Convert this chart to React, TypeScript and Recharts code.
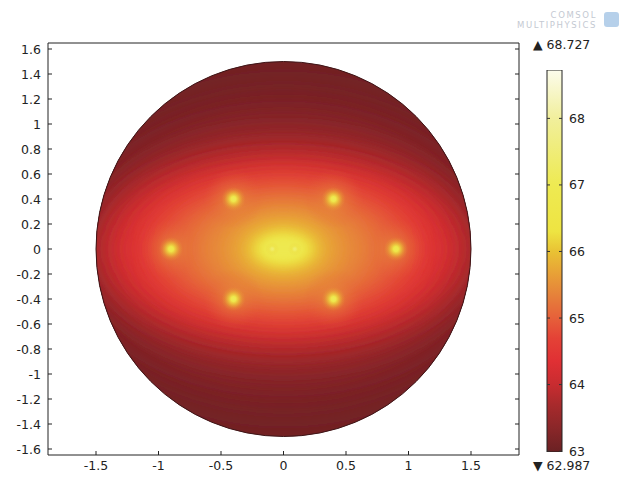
import React from 'react';
import { ScatterChart, Scatter, XAxis, YAxis, ReferenceArea, BarChart, Bar } from 'recharts';

const W = 641;
const H = 480;
const FONT = "'DejaVu Sans', sans-serif";
const INK = '#222';

// ---------- axes ----------
const xTicks = [-1.5, -1, -0.5, 0, 0.5, 1, 1.5];
const yTicks = [-1.6, -1.4, -1.2, -1, -0.8, -0.6, -0.4, -0.2, 0, 0.2, 0.4, 0.6, 0.8, 1, 1.2, 1.4, 1.6];
const xLimits = [-1.884, 1.884];
const yLimits = [-1.648, 1.648];

// ---------- colour scale ----------
const colorRange = [62.987, 68.727];
const colorTicks = [63, 64, 65, 66, 67, 68];
const cmapTemps = [62.987, 63.3, 63.7, 64.0, 64.35, 64.7, 65.0, 65.35, 65.7, 66.0, 66.3, 67.0, 68.0, 68.727];
const cmapColors = ['#6a2123', '#862628', '#a82a2c', '#c82c30', '#e03034', '#e44236', '#e6603a', '#e6823a', '#e8a436', '#e9c234', '#eee442', '#eeea52', '#f1ef9c', '#fcfcec'];

// ---------- disk ----------
const diskRadius = 1.5;
const diskEdgeTemp = 63.08;

// ---------- isotherms (temperature, half-width, half-height) ----------
const isoTemps = [63.2, 63.4, 63.65, 63.9, 64.2, 64.4, 64.7, 65.0, 65.3, 65.6, 65.9, 66.2, 66.6, 66.9];
const isoHalfWidth = [1.75, 1.6, 1.5, 1.45, 1.38, 1.22, 1.1, 0.98, 0.8, 0.56, 0.36, 0.26, 0.2, 0.15];
const isoHalfHeight = [1.28, 1.02, 0.885, 0.75, 0.66, 0.61, 0.55, 0.47, 0.41, 0.33, 0.23, 0.15, 0.11, 0.075];

// ---------- heat sources ----------
const sourceX = [-0.4, 0.4, -0.9, 0.9, -0.4, 0.4, -0.09, 0.09];
const sourceY = [0.4, 0.4, 0, 0, -0.4, -0.4, 0, 0];
const sourcePeak = [67.1, 67.1, 66.9, 66.9, 67.1, 67.1, 67.5, 67.5];
const sourceHalo = [1, 1, 1, 1, 1, 1, 0, 0];

const spotData = sourceX.map((x, i) => ({ x, y: sourceY[i], peak: sourcePeak[i], halo: sourceHalo[i], id: i }));
const cbarData = [{ name: 'T', range: [colorRange[0], colorRange[1]] }];

const hexToRgb = (h: string) => [parseInt(h.slice(1, 3), 16), parseInt(h.slice(3, 5), 16), parseInt(h.slice(5, 7), 16)];
const mix = (a: string, b: string, f: number) => {
  const A = hexToRgb(a);
  const B = hexToRgb(b);
  const c = A.map((v, k) => Math.round(v + (B[k] - v) * f));
  return `rgb(${c[0]},${c[1]},${c[2]})`;
};
function tempColor(t: number): string {
  if (t <= cmapTemps[0]) return cmapColors[0];
  for (let i = 1; i < cmapTemps.length; i++) {
    if (t <= cmapTemps[i]) {
      const f = (t - cmapTemps[i - 1]) / (cmapTemps[i] - cmapTemps[i - 1]);
      return mix(cmapColors[i - 1], cmapColors[i], f);
    }
  }
  return cmapColors[cmapColors.length - 1];
}

const textStyle = { fontFamily: FONT, fontSize: 12.5, fill: INK } as const;

// ---------- ticks ----------
const BottomTick = (props: any) => {
  const { x, y, payload } = props;
  const axisY = y - 6;
  return (
    <g>
      <line x1={x} x2={x} y1={axisY} y2={axisY - 4} stroke={INK} />
      <text x={x} y={y} dy="0.71em" textAnchor="middle" {...textStyle}>{String(payload.value)}</text>
    </g>
  );
};
const LeftTick = (props: any) => {
  const { x, y, payload } = props;
  const axisX = x + 7;
  return (
    <g>
      <line x1={axisX} x2={axisX + 4} y1={y} y2={y} stroke={INK} />
      <text x={x} y={y} dy="0.36em" textAnchor="end" {...textStyle}>{String(payload.value)}</text>
    </g>
  );
};
const TopTick = (props: any) => {
  const { x, y } = props;
  return <line x1={x} x2={x} y1={y} y2={y + 4} stroke={INK} />;
};
const RightTick = (props: any) => {
  const { x, y } = props;
  return <line x1={x} x2={x - 4} y1={y} y2={y} stroke={INK} />;
};
const CbarTick = (props: any) => {
  const { x, y, payload } = props;
  const right = x - 7;
  const left = right - 15;
  return (
    <g>
      <line x1={left} x2={left + 3} y1={y} y2={y} stroke="#333" />
      <line x1={right - 3} x2={right} y1={y} y2={y} stroke="#333" />
      <text x={x} y={y} dy="0.36em" textAnchor="start" {...textStyle}>{String(payload.value)}</text>
    </g>
  );
};

// ---------- shapes ----------
const DiskShape = (props: any) => {
  const { x, y, width, height } = props;
  const cx = x + width / 2;
  const cy = y + height / 2;
  return (
    <g>
      <defs>
        <clipPath id="diskClip">
          <ellipse cx={cx} cy={cy} rx={width / 2} ry={height / 2} />
        </clipPath>
      </defs>
      <ellipse cx={cx} cy={cy} rx={width / 2} ry={height / 2} fill={tempColor(diskEdgeTemp)} />
    </g>
  );
};

const makeIsoShape = (t: number, i: number) => (props: any) => {
  const { x, y, width, height } = props;
  const rxp = width / 2;
  const ryp = height / 2;
  const sd = Math.max(2.5, Math.min(16, 0.35 * Math.min(rxp, ryp)));
  return (
    <g>
      <defs>
        <filter id={`isoBlur${i}`} x="-1" y="-1" width="3" height="3">
          <feGaussianBlur stdDeviation={sd} />
        </filter>
      </defs>
      <g clipPath="url(#diskClip)">
        <ellipse cx={x + rxp} cy={y + ryp} rx={rxp} ry={ryp} fill={tempColor(t)} filter={`url(#isoBlur${i})`} />
      </g>
    </g>
  );
};

const OutlineShape = (props: any) => {
  const { x, y, width, height } = props;
  return (
    <ellipse cx={x + width / 2} cy={y + height / 2} rx={width / 2} ry={height / 2} fill="none" stroke="#3e1517" strokeWidth={1} />
  );
};

const SpotShape = (props: any) => {
  const { cx, cy, payload } = props;
  const id = `spot${payload.id}`;
  const p = payload.peak;
  const hasHalo = payload.halo > 0;
  return (
    <g>
      <defs>
        <radialGradient id={`${id}h`}>
          <stop offset="0" stopColor={tempColor(65.9)} stopOpacity={0.55} />
          <stop offset="0.4" stopColor={tempColor(65.4)} stopOpacity={0.35} />
          <stop offset="1" stopColor={tempColor(65.0)} stopOpacity={0} />
        </radialGradient>
        <radialGradient id={id}>
          <stop offset="0" stopColor={tempColor(p)} stopOpacity={1} />
          <stop offset="0.2" stopColor={tempColor(p - 0.3)} stopOpacity={hasHalo ? 1 : 0.8} />
          <stop offset="0.45" stopColor={tempColor(66.2)} stopOpacity={hasHalo ? 0.6 : 0.2} />
          <stop offset="0.75" stopColor={tempColor(65.9)} stopOpacity={hasHalo ? 0.2 : 0} />
          <stop offset="1" stopColor={tempColor(65.7)} stopOpacity={0} />
        </radialGradient>
      </defs>
      {hasHalo ? <circle cx={cx} cy={cy} r={30} fill={`url(#${id}h)`} /> : null}
      <circle cx={cx} cy={cy} r={hasHalo ? 12 : 9} fill={`url(#${id})`} />
    </g>
  );
};

const CbarShape = (props: any) => {
  const { x, y, width, height } = props;
  const span = colorRange[1] - colorRange[0];
  return (
    <g>
      <defs>
        <linearGradient id="cbarGrad" x1="0" y1="1" x2="0" y2="0">
          {cmapTemps.map((t, i) => (
            <stop key={i} offset={(t - colorRange[0]) / span} stopColor={cmapColors[i]} />
          ))}
        </linearGradient>
      </defs>
      <rect x={x} y={y} width={width} height={height} fill="url(#cbarGrad)" stroke={INK} strokeWidth={1} />
    </g>
  );
};

export default function App() {
  return (
    <div style={{ position: 'fixed', left: 0, top: 0, width: W, height: H, background: '#fff', fontFamily: FONT }}>
      <div style={{ position: 'absolute', left: 0, top: 0 }}>
        <ScatterChart width={W} height={H} margin={{ top: 42, right: 121, bottom: 0, left: 0 }}>
          <XAxis
            dataKey="x"
            type="number"
            domain={xLimits}
            allowDataOverflow
            ticks={xTicks}
            interval={0}
            height={25}
            tickSize={0}
            tickMargin={6}
            tickLine={false}
            axisLine={{ stroke: INK }}
            tick={BottomTick}
          />
          <XAxis
            xAxisId="top"
            orientation="top"
            type="number"
            domain={xLimits}
            allowDataOverflow
            ticks={xTicks}
            interval={0}
            height={1}
            tickSize={0}
            tickMargin={0}
            tickLine={false}
            axisLine={{ stroke: INK }}
            tick={TopTick}
          />
          <YAxis
            dataKey="y"
            type="number"
            domain={yLimits}
            allowDataOverflow
            ticks={yTicks}
            interval={0}
            width={48}
            tickSize={0}
            tickMargin={7}
            tickLine={false}
            axisLine={{ stroke: INK }}
            tick={LeftTick}
          />
          <YAxis
            yAxisId="right"
            orientation="right"
            type="number"
            domain={yLimits}
            allowDataOverflow
            ticks={yTicks}
            interval={0}
            width={1}
            tickSize={0}
            tickMargin={0}
            tickLine={false}
            axisLine={{ stroke: INK }}
            tick={RightTick}
          />
          <ReferenceArea
            x1={-diskRadius}
            x2={diskRadius}
            y1={-diskRadius}
            y2={diskRadius}
            ifOverflow="visible"
            shape={DiskShape}
          />
          {isoTemps.map((t, i) => (
            <ReferenceArea
              key={`iso${i}`}
              x1={-isoHalfWidth[i]}
              x2={isoHalfWidth[i]}
              y1={-isoHalfHeight[i]}
              y2={isoHalfHeight[i]}
              ifOverflow="visible"
              shape={makeIsoShape(t, i)}
            />
          ))}
          <ReferenceArea
            x1={-diskRadius}
            x2={diskRadius}
            y1={-diskRadius}
            y2={diskRadius}
            ifOverflow="visible"
            shape={OutlineShape}
          />
          <Scatter data={spotData} isAnimationActive={false} shape={SpotShape} />
        </ScatterChart>
      </div>
      <div style={{ position: 'absolute', left: 0, top: 0 }}>
        <BarChart
          width={W}
          height={H}
          data={cbarData}
          margin={{ top: 70, right: 0, bottom: 28, left: 547 }}
          barCategoryGap={0}
          barGap={0}
        >
          <XAxis dataKey="name" hide />
          <Bar dataKey="range" isAnimationActive={false} shape={CbarShape} />
          <YAxis
            orientation="right"
            type="number"
            domain={colorRange}
            allowDataOverflow
            ticks={colorTicks}
            interval={0}
            width={79}
            tickSize={0}
            tickMargin={7}
            tickLine={false}
            axisLine={false}
            tick={CbarTick}
          />
        </BarChart>
      </div>
      <div style={{ position: 'absolute', left: 533, top: 38, fontSize: 12.5, lineHeight: '14px', color: INK, whiteSpace: 'nowrap' }}>
        {`\u25B2 ${colorRange[1].toFixed(3)}`}
      </div>
      <div style={{ position: 'absolute', left: 533, top: 459, fontSize: 12.5, lineHeight: '14px', color: INK, whiteSpace: 'nowrap' }}>
        {`\u25BC ${colorRange[0].toFixed(3)}`}
      </div>
      <div style={{ position: 'absolute', right: 44, top: 10, textAlign: 'right', color: '#c4c9d2', fontSize: 8.5, lineHeight: '10px', letterSpacing: 1.6, whiteSpace: 'nowrap' }}>
        <div>COMSOL</div>
        <div>MULTIPHYSICS</div>
      </div>
      <div style={{ position: 'absolute', left: 604, top: 12, width: 15, height: 15, borderRadius: 3, background: '#a9c8e6', opacity: 0.85 }} />
    </div>
  );
}
